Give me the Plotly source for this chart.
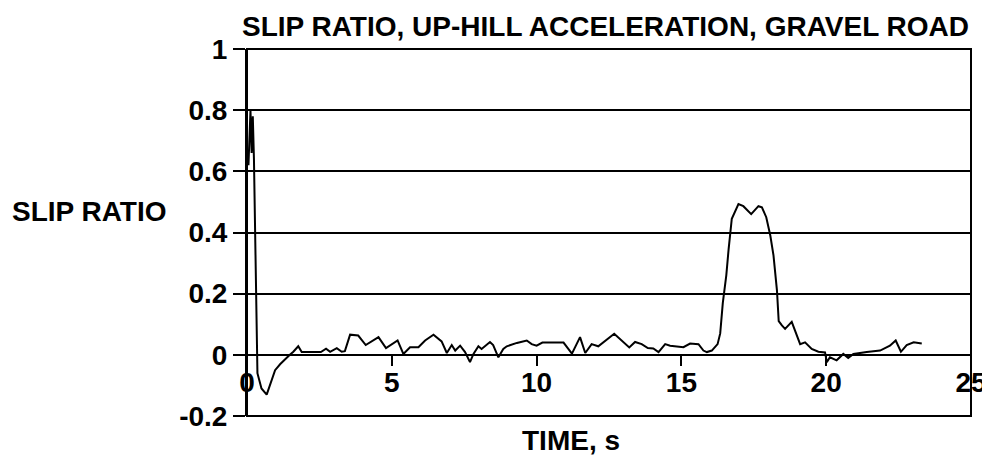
import plotly.graph_objects as go

# ---- data ----
time_s = [0.05, 0.12, 0.16, 0.2, 0.24, 0.3, 0.33, 0.36, 0.5, 0.68, 0.97, 1.15, 1.48, 1.6, 1.77, 1.89,
          2.55, 2.73, 2.87, 3.1, 3.27, 3.38, 3.56, 3.84, 4.1, 4.54, 4.8, 5.2, 5.4, 5.63, 5.92,
          6.15, 6.44, 6.72, 6.9, 7.07, 7.19, 7.36, 7.53, 7.7, 7.82, 7.99, 8.1, 8.39, 8.5, 8.68,
          8.85, 8.97, 9.32, 9.66, 9.83, 10.0, 10.2, 10.93, 11.22, 11.5, 11.68, 11.9, 12.13,
          12.68, 13.2, 13.4, 13.63, 13.84, 14.03, 14.21, 14.44, 14.61, 15.07, 15.3, 15.59,
          15.76, 15.88, 16.05, 16.25, 16.34, 16.43, 16.55, 16.63, 16.74, 16.97, 17.14, 17.41,
          17.66, 17.78, 17.93, 18.07, 18.18, 18.3, 18.36, 18.47, 18.58, 18.81, 18.99, 19.1,
          19.27, 19.5, 19.73, 19.96, 20.02, 20.13, 20.36, 20.59, 20.76, 20.94, 21.4, 21.86,
          22.2, 22.4, 22.58, 22.78, 23.02, 23.3]
slip_ratio = [0.62, 0.80, 0.66, 0.78, 0.64, 0.30, 0.10, -0.06, -0.11, -0.13, -0.05, -0.03, 0.0, 0.01, 0.028, 0.009,
              0.009, 0.02, 0.01, 0.022, 0.01, 0.012, 0.066, 0.063, 0.032, 0.058, 0.022, 0.047, 0.003, 0.025, 0.025,
              0.047, 0.066, 0.044, 0.006, 0.032, 0.014, 0.03, 0.009, -0.024, 0.003, 0.028, 0.019, 0.042, 0.032, -0.008,
              0.019, 0.028, 0.039, 0.047, 0.035, 0.03, 0.04, 0.04, 0.004, 0.058, 0.006, 0.035, 0.028,
              0.069, 0.024, 0.042, 0.035, 0.022, 0.021, 0.009, 0.035, 0.03, 0.025, 0.037, 0.035,
              0.014, 0.009, 0.014, 0.035, 0.07, 0.17, 0.26, 0.345, 0.445, 0.493, 0.486, 0.46,
              0.486, 0.482, 0.45, 0.39, 0.325, 0.21, 0.11, 0.096, 0.085, 0.108, 0.063, 0.035,
              0.041, 0.019, 0.01, 0.008, -0.024, -0.008, -0.018, 0.003, -0.01, 0.003, 0.009, 0.014,
              0.03, 0.047, 0.01, 0.032, 0.041, 0.037]

x_tick_vals = [0, 5, 10, 15, 20, 25]
x_tick_text = ["0", "5", "10", "15", "20", "25"]
y_tick_vals = [-0.2, 0, 0.2, 0.4, 0.6, 0.8, 1.0]
y_tick_text = ["-0.2", "0", "0.2", "0.4", "0.6", "0.8", "1"]

title_text = "<b>SLIP RATIO, UP-HILL ACCELERATION, GRAVEL ROAD</b>"
y_label = "<b>SLIP RATIO</b>"
x_label = "<b>TIME, s</b>"

FONT = "Arial, Liberation Sans, sans-serif"
FS = 28
TICKFONT = dict(family=FONT, size=FS, color="black", weight="bold")

# page body adds an 8px offset; figure sized so the page never scrolls,
# margins place the plot at page x 247-971, y 49-416
L, T, PW, PH = 239, 41, 724, 367
W, H = 982, 448

fig = go.Figure()
fig.add_trace(go.Scatter(x=time_s, y=slip_ratio, mode="lines",
                         line=dict(color="black", width=2), showlegend=False))

fig.update_layout(
    width=W, height=H,
    margin=dict(l=L, r=W - L - PW, t=T, b=H - T - PH, autoexpand=False),
    paper_bgcolor="white", plot_bgcolor="white",
    font=dict(family=FONT, size=FS, color="black"),
)

fig.update_xaxes(
    range=[0, 25], tickvals=x_tick_vals, ticktext=x_tick_text,
    ticks="outside", ticklen=10, tickwidth=2, tickcolor="black",
    showline=True, linewidth=2, linecolor="black",
    anchor="free", position=0.2 / 1.2, automargin=False,
    ticklabelstandoff=-7,
    showgrid=False, zeroline=False,
    tickfont=TICKFONT,
)
fig.update_yaxes(
    range=[-0.2, 1.0], tickvals=y_tick_vals, ticktext=y_tick_text,
    ticks="outside", ticklen=12, tickwidth=2, tickcolor="black",
    showline=True, linewidth=2, linecolor="black", automargin=False,
    showgrid=True, gridcolor="black", gridwidth=1.5,
    zeroline=True, zerolinecolor="black", zerolinewidth=2,
    tickfont=TICKFONT,
)

fig.add_shape(type="rect", xref="x domain", yref="y domain", x0=0, x1=1, y0=0, y1=1,
              line=dict(color="black", width=2), layer="above")

# chart title (as an annotation so it can sit tight against the top edge)
fig.add_annotation(text=title_text, xref="paper", yref="paper",
                   x=(605 - 8 - L) / PW, y=(T + PH - 2) / PH,
                   xanchor="center", yanchor="top", showarrow=False, borderpad=0,
                   font=dict(family=FONT, size=FS, color="black"))
fig.add_annotation(text=y_label, xref="paper", yref="y", x=(2 - L) / PW, y=0.47,
                   xanchor="left", yanchor="middle", showarrow=False,
                   font=dict(family=FONT, size=FS, color="black"))
fig.add_annotation(text=x_label, xref="x", yref="paper", x=(571 - 247) / 28.96, y=-24 / PH,
                   xanchor="center", yanchor="middle", showarrow=False,
                   font=dict(family=FONT, size=FS, color="black"))

fig.write_html("out.html")
